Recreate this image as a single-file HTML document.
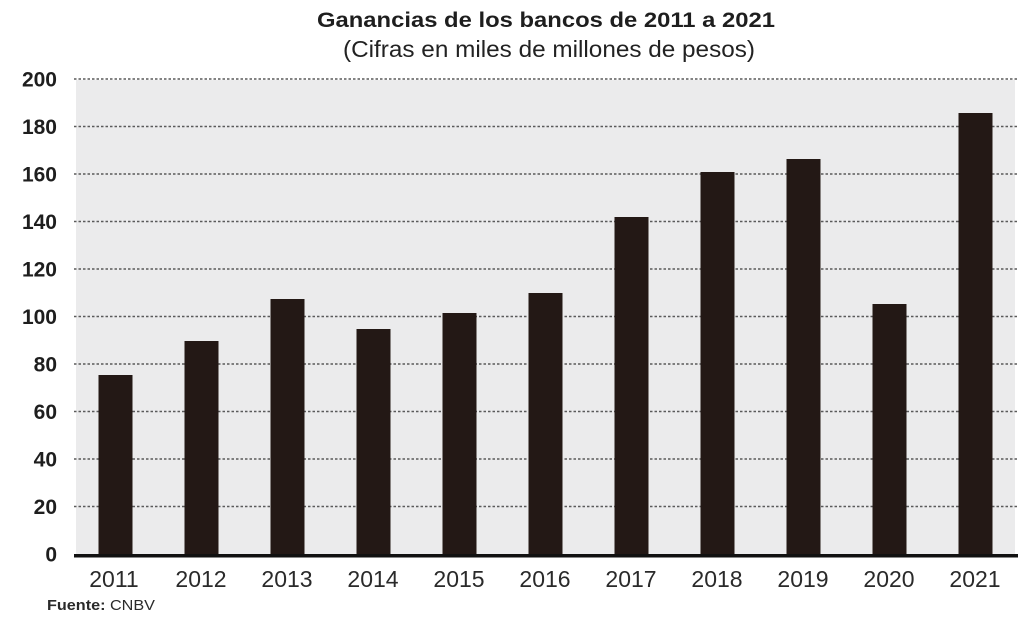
<!DOCTYPE html>
<html>
<head>
<meta charset="utf-8">
<style>
html,body{margin:0;padding:0;background:#fff;}
svg{display:block;}
text{font-family:"Liberation Sans",sans-serif;}
</style>
</head>
<body>
<svg width="1024" height="618" viewBox="0 0 1024 618" xmlns="http://www.w3.org/2000/svg">
<rect x="0" y="0" width="1024" height="618" fill="#ffffff"/>
<text x="546" y="27" text-anchor="middle" font-size="21" font-weight="bold" fill="#1e1e1e" textLength="458" lengthAdjust="spacingAndGlyphs">Ganancias de los bancos de 2011 a 2021</text>
<text x="549" y="57" text-anchor="middle" font-size="23" fill="#222" textLength="412" lengthAdjust="spacingAndGlyphs">(Cifras en miles de millones de pesos)</text>

<rect x="76" y="80" width="939" height="475" fill="#ebebec"/>

<g stroke="#5a5a5a" stroke-width="1.5" stroke-dasharray="2.5 2" fill="none">
<line x1="74" y1="79" x2="1018" y2="79"/>
<line x1="74" y1="126.5" x2="1018" y2="126.5"/>
<line x1="74" y1="174" x2="1018" y2="174"/>
<line x1="74" y1="221.5" x2="1018" y2="221.5"/>
<line x1="74" y1="269" x2="1018" y2="269"/>
<line x1="74" y1="316.5" x2="1018" y2="316.5"/>
<line x1="74" y1="364" x2="1018" y2="364"/>
<line x1="74" y1="411.5" x2="1018" y2="411.5"/>
<line x1="74" y1="459" x2="1018" y2="459"/>
<line x1="74" y1="506.5" x2="1018" y2="506.5"/>
</g>

<g font-size="21" font-weight="bold" fill="#1e1e1e" text-anchor="end">
<text x="57" y="86.5">200</text>
<text x="57" y="134">180</text>
<text x="57" y="181.5">160</text>
<text x="57" y="229">140</text>
<text x="57" y="276.5">120</text>
<text x="57" y="324">100</text>
<text x="57" y="371.5">80</text>
<text x="57" y="419">60</text>
<text x="57" y="466.5">40</text>
<text x="57" y="514">20</text>
<text x="57" y="561.5">0</text>
</g>

<g fill="#231815">
<rect x="98.5" y="375" width="34" height="181"/>
<rect x="184.5" y="341" width="34" height="215"/>
<rect x="270.5" y="299" width="34" height="257"/>
<rect x="356.5" y="329" width="34" height="227"/>
<rect x="442.5" y="313" width="34" height="243"/>
<rect x="528.5" y="293" width="34" height="263"/>
<rect x="614.5" y="217" width="34" height="339"/>
<rect x="700.5" y="172" width="34" height="384"/>
<rect x="786.5" y="159" width="34" height="397"/>
<rect x="872.5" y="304" width="34" height="252"/>
<rect x="958.5" y="113" width="34" height="443"/>
</g>

<rect x="74" y="554" width="944" height="3.5" fill="#111"/>

<g font-size="23" fill="#2a2a2a" text-anchor="middle">
<text x="114" y="587">2011</text>
<text x="201" y="587">2012</text>
<text x="287" y="587">2013</text>
<text x="373" y="587">2014</text>
<text x="459" y="587">2015</text>
<text x="545" y="587">2016</text>
<text x="631" y="587">2017</text>
<text x="717" y="587">2018</text>
<text x="803" y="587">2019</text>
<text x="889" y="587">2020</text>
<text x="975" y="587">2021</text>
</g>

<text x="47" y="610" font-size="15" fill="#2a2a2a" textLength="108" lengthAdjust="spacingAndGlyphs"><tspan font-weight="bold">Fuente:</tspan> CNBV</text>
</svg>
</body>
</html>
